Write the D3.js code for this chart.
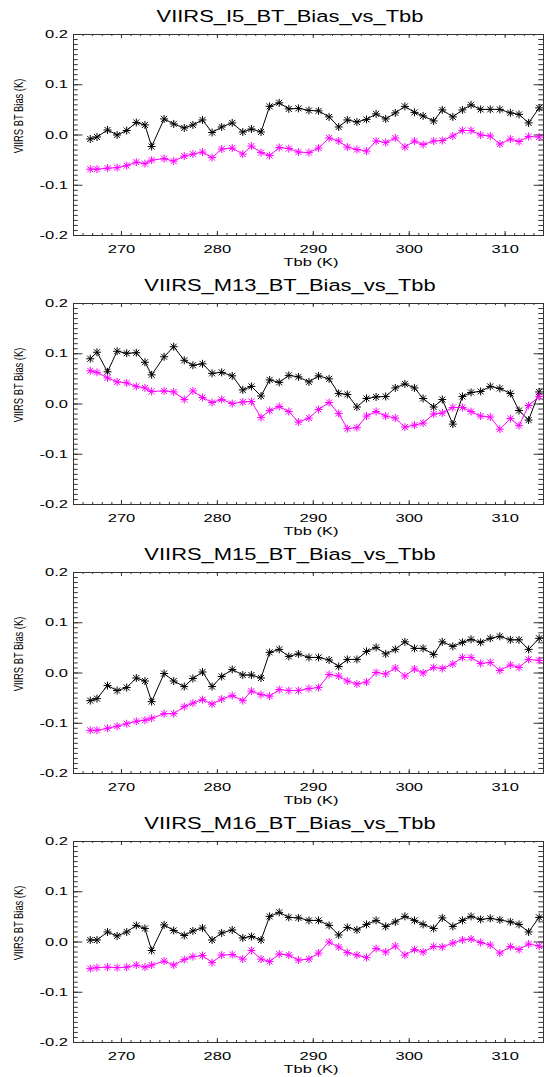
<!DOCTYPE html>
<html>
<head>
<meta charset="utf-8">
<script src="https://cdn.jsdelivr.net/npm/d3@7"></script>
<style>
  body { margin: 0; background: #fff; }
  svg { display: block; font-family: "Liberation Sans", Arial, Helvetica, sans-serif; }
</style>
</head>
<body>
<svg id="chart"></svg>
<script>
// Tbb bin centres (K), shared by every panel
const tbb = [266.8, 267.5, 268.6, 269.6, 270.6, 271.6, 272.5, 273.2, 274.5, 275.5,
  276.6, 277.5, 278.5, 279.5, 280.5, 281.6, 282.7, 283.6, 284.6, 285.5,
  286.5, 287.5, 288.5, 289.6, 290.6, 291.7, 292.7, 293.6, 294.6, 295.6,
  296.6, 297.6, 298.6, 299.6, 300.6, 301.5, 302.6, 303.5, 304.6, 305.6,
  306.5, 307.5, 308.5, 309.5, 310.6, 311.5, 312.5, 313.6];

const titles = ['VIIRS_I5_BT_Bias_vs_Tbb', 'VIIRS_M13_BT_Bias_vs_Tbb',
  'VIIRS_M15_BT_Bias_vs_Tbb', 'VIIRS_M16_BT_Bias_vs_Tbb'];

const i5Black = [-0.009, -0.005, 0.009, -0.001, 0.008, 0.024, 0.019, -0.024, 0.031, 0.021,
  0.013, 0.019, 0.029, 0.004, 0.015, 0.023, 0.005, 0.011, 0.005, 0.056,
  0.063, 0.051, 0.052, 0.048, 0.047, 0.035, 0.015, 0.029, 0.025, 0.030,
  0.041, 0.031, 0.043, 0.056, 0.044, 0.037, 0.027, 0.049, 0.035, 0.049,
  0.059, 0.050, 0.050, 0.050, 0.043, 0.040, 0.023, 0.053];
const i5Magenta = [-0.069, -0.069, -0.067, -0.066, -0.062, -0.055, -0.058, -0.051, -0.048, -0.053,
  -0.043, -0.039, -0.035, -0.046, -0.029, -0.027, -0.039, -0.023, -0.036, -0.042,
  -0.026, -0.028, -0.035, -0.036, -0.027, -0.007, -0.013, -0.025, -0.030, -0.033,
  -0.013, -0.016, -0.007, -0.025, -0.013, -0.020, -0.013, -0.012, -0.003, 0.008,
  0.008, -0.001, -0.003, -0.019, -0.009, -0.014, -0.004, -0.005];

const m13Black = [0.089, 0.102, 0.063, 0.104, 0.100, 0.101, 0.082, 0.057, 0.093, 0.113,
  0.086, 0.076, 0.079, 0.060, 0.062, 0.055, 0.027, 0.034, 0.015, 0.047,
  0.042, 0.056, 0.053, 0.043, 0.055, 0.049, 0.020, 0.018, -0.007, 0.010,
  0.013, 0.014, 0.031, 0.039, 0.031, 0.010, -0.007, 0.008, -0.041, 0.014,
  0.022, 0.024, 0.034, 0.030, 0.020, -0.014, -0.033, 0.023];
const m13Magenta = [0.065, 0.062, 0.051, 0.043, 0.041, 0.034, 0.031, 0.024, 0.025, 0.023,
  0.008, 0.025, 0.012, 0.002, 0.008, 0.000, 0.003, 0.004, -0.028, -0.014,
  -0.006, -0.016, -0.037, -0.029, -0.012, 0.002, -0.020, -0.050, -0.048, -0.025,
  -0.016, -0.025, -0.029, -0.047, -0.043, -0.039, -0.021, -0.019, -0.008, -0.008,
  -0.016, -0.025, -0.027, -0.051, -0.030, -0.044, -0.004, 0.014];

const m15Black = [-0.056, -0.052, -0.026, -0.036, -0.030, -0.011, -0.017, -0.058, -0.002, -0.017,
  -0.028, -0.012, 0.001, -0.028, -0.008, 0.006, -0.005, -0.005, -0.011, 0.040,
  0.046, 0.032, 0.037, 0.030, 0.030, 0.025, 0.012, 0.026, 0.026, 0.042,
  0.050, 0.037, 0.046, 0.061, 0.048, 0.048, 0.036, 0.061, 0.052, 0.060,
  0.066, 0.060, 0.068, 0.072, 0.065, 0.065, 0.046, 0.068];
const m15Magenta = [-0.115, -0.115, -0.111, -0.107, -0.102, -0.097, -0.095, -0.091, -0.082, -0.082,
  -0.068, -0.061, -0.054, -0.063, -0.053, -0.046, -0.056, -0.037, -0.044, -0.047,
  -0.034, -0.036, -0.036, -0.032, -0.030, -0.004, -0.007, -0.017, -0.023, -0.019,
  0.000, -0.003, 0.009, -0.007, 0.007, -0.001, 0.010, 0.008, 0.017, 0.030,
  0.030, 0.018, 0.020, 0.004, 0.015, 0.010, 0.026, 0.024];

const m16Black = [0.003, 0.003, 0.019, 0.011, 0.019, 0.032, 0.026, -0.018, 0.033, 0.022,
  0.012, 0.021, 0.027, 0.003, 0.017, 0.023, 0.007, 0.010, 0.003, 0.050,
  0.058, 0.048, 0.047, 0.042, 0.042, 0.032, 0.013, 0.028, 0.023, 0.034,
  0.042, 0.030, 0.039, 0.050, 0.042, 0.034, 0.026, 0.047, 0.030, 0.042,
  0.050, 0.044, 0.046, 0.043, 0.039, 0.034, 0.019, 0.048];
const m16Magenta = [-0.054, -0.052, -0.051, -0.052, -0.051, -0.047, -0.051, -0.047, -0.039, -0.047,
  -0.036, -0.030, -0.028, -0.042, -0.027, -0.026, -0.035, -0.018, -0.035, -0.040,
  -0.025, -0.027, -0.037, -0.035, -0.023, -0.001, -0.011, -0.022, -0.027, -0.032,
  -0.014, -0.021, -0.009, -0.027, -0.016, -0.021, -0.010, -0.011, -0.003, 0.003,
  0.005, -0.002, -0.007, -0.023, -0.010, -0.016, -0.005, -0.009];

const xMajor = [270, 280, 290, 300, 310];
const yMajor = [-0.2, -0.1, 0.0, 0.1, 0.2];

const panels = [
  { title: titles[0], black: i5Black, magenta: i5Magenta },
  { title: titles[1], black: m13Black, magenta: m13Magenta },
  { title: titles[2], black: m15Black, magenta: m15Magenta },
  { title: titles[3], black: m16Black, magenta: m16Magenta }
];

const width = 551, height = 1077;
const left = 73, right = 543, plotH = 201;
const tops = [34, 303, 572, 841];
const axisColor = '#333';

const svg = d3.select('#chart').attr('width', width).attr('height', height);

const xscale = d3.scaleLinear().domain([265, 314]).range([left, right]);

// IDL style asterisk
const star = 'M-4,0H4M0,-4V4M-3,-3L3,3M-3,3L3,-3';

function styleAxis(g) {
  g.select('.domain').attr('stroke', axisColor);
  g.selectAll('.tick line').attr('stroke', axisColor);
}

panels.forEach((p, i) => {
  const top = tops[i], bottom = top + plotH;
  const yscale = d3.scaleLinear().domain([-0.2, 0.2]).range([bottom, top]);
  const g = svg.append('g');

  // x axes (bottom + top), ticks pointing inward
  g.append('g').attr('transform', `translate(0,${bottom})`)
    .call(d3.axisBottom(xscale).tickValues(d3.range(266, 315)).tickSize(-2).tickSizeOuter(0).tickFormat(''))
    .call(styleAxis);
  const xb = g.append('g').attr('transform', `translate(0,${bottom})`)
    .call(d3.axisBottom(xscale).tickValues(xMajor).tickSize(-4).tickSizeOuter(0).tickFormat(d3.format('d')))
    .call(styleAxis);
  xb.selectAll('text')
    .attr('y', 18).attr('dy', null)
    .attr('fill', '#000')
    .style('font-size', '11px')
    .attr('transform', 'scale(1.5,1)');

  g.append('g').attr('transform', `translate(0,${top})`)
    .call(d3.axisTop(xscale).tickValues(d3.range(266, 315)).tickSize(-2).tickSizeOuter(0).tickFormat(''))
    .call(styleAxis);
  g.append('g').attr('transform', `translate(0,${top})`)
    .call(d3.axisTop(xscale).tickValues(xMajor).tickSize(-4).tickSizeOuter(0).tickFormat(''))
    .call(styleAxis);

  // y axes (left + right)
  const yMinor = d3.range(-20, 21).map(v => v / 100);
  g.append('g').attr('transform', `translate(${left},0)`)
    .call(d3.axisLeft(yscale).tickValues(yMinor).tickSize(-4.7).tickSizeOuter(0).tickFormat(''))
    .call(styleAxis);
  const yl = g.append('g').attr('transform', `translate(${left},0)`)
    .call(d3.axisLeft(yscale).tickValues(yMajor).tickSize(-9.4).tickSizeOuter(0).tickFormat(d => d.toFixed(1)))
    .call(styleAxis);
  yl.selectAll('text')
    .attr('x', -5 / 1.5)
    .attr('fill', '#000')
    .style('font-size', '11px')
    .attr('transform', 'scale(1.5,1)');

  g.append('g').attr('transform', `translate(${right},0)`)
    .call(d3.axisRight(yscale).tickValues(yMinor).tickSize(-4.7).tickSizeOuter(0).tickFormat(''))
    .call(styleAxis);
  g.append('g').attr('transform', `translate(${right},0)`)
    .call(d3.axisRight(yscale).tickValues(yMajor).tickSize(-9.4).tickSizeOuter(0).tickFormat(''))
    .call(styleAxis);

  // titles and labels
  g.append('text')
    .attr('transform', `translate(290,${top - 12}) scale(1.33,1)`)
    .attr('text-anchor', 'middle')
    .style('font-size', '16.5px')
    .text(p.title);

  g.append('text')
    .attr('transform', `translate(311,${bottom + 31}) scale(1.5,1)`)
    .attr('text-anchor', 'middle')
    .style('font-size', '11px')
    .text('Tbb (K)');

  g.append('text')
    .attr('transform', `translate(22.7,${top + 82}) rotate(-90) scale(0.78,1)`)
    .attr('text-anchor', 'middle')
    .style('font-size', '12px')
    .text('VIIRS BT Bias (K)');

  // series
  const line = d3.line().x((d, j) => xscale(tbb[j])).y(d => yscale(d));
  [['black', p.black], ['#ff00ff', p.magenta]].forEach(([color, vals]) => {
    g.append('path')
      .datum(vals)
      .attr('fill', 'none')
      .attr('stroke', color)
      .attr('stroke-width', 1)
      .attr('d', line);
    g.append('g').selectAll('path')
      .data(vals)
      .enter()
      .append('path')
      .attr('transform', (d, j) => `translate(${xscale(tbb[j])},${yscale(d)})`)
      .attr('d', star)
      .attr('fill', 'none')
      .attr('stroke', color)
      .attr('stroke-width', 1);
  });
});
</script>
</body>
</html>
